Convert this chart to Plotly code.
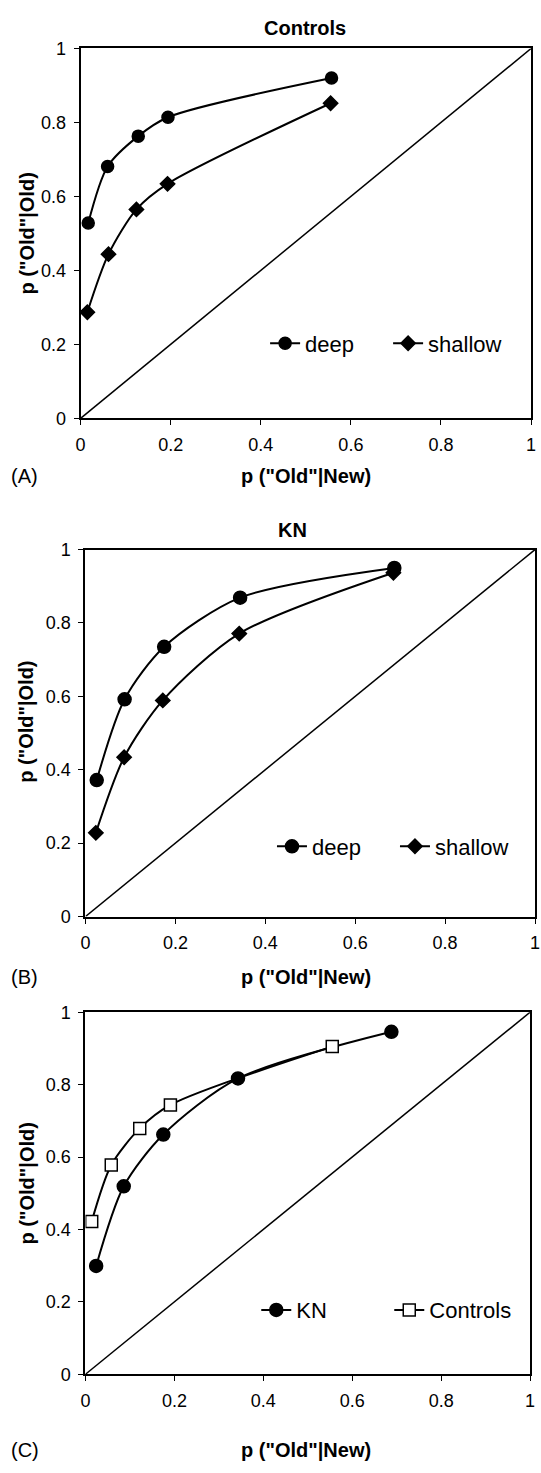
import plotly.graph_objects as go

W, H = 541, 1473

# ---------------- data ----------------
# Panel A - Controls
a_deep_x = [0.017, 0.060, 0.128, 0.194, 0.557]
a_deep_y = [0.528, 0.681, 0.763, 0.814, 0.920]
a_shal_x = [0.015, 0.062, 0.124, 0.193, 0.555]
a_shal_y = [0.287, 0.444, 0.565, 0.634, 0.852]
# Panel B - KN
b_deep_x = [0.025, 0.087, 0.175, 0.344, 0.687]
b_deep_y = [0.372, 0.592, 0.735, 0.869, 0.950]
b_shal_x = [0.023, 0.086, 0.172, 0.342, 0.685]
b_shal_y = [0.228, 0.434, 0.589, 0.771, 0.937]
# Panel C - KN vs Controls
c_kn_x = [0.024, 0.086, 0.175, 0.343, 0.688]
c_kn_y = [0.299, 0.519, 0.662, 0.817, 0.946]
c_ctl_x = [0.014, 0.058, 0.122, 0.191, 0.555]
c_ctl_y = [0.422, 0.578, 0.679, 0.744, 0.905]

diag = [0, 1]
tick_vals = [0, 0.2, 0.4, 0.6, 0.8, 1]
tick_text = ["0", "0.2", "0.4", "0.6", "0.8", "1"]

panel_titles = ["Controls", "KN", ""]
panel_labels = ["(A)", "(B)", "(C)"]
x_title = 'p ("Old"|New)'
y_title = 'p ("Old"|Old)'

FONT = "Liberation Sans, Arial, sans-serif"

# pixel boxes (left, right, top, bottom)
boxes = [(77, 536, 39, 414), (82, 540, 547, 919), (82, 535, 1016, 1383)]


def px(x):
    return x / W


def py(y):
    return 1 - y / H


fig = go.Figure()

series = [
    [("deep", a_deep_x, a_deep_y, "circle", 12, "black"),
     ("shallow", a_shal_x, a_shal_y, "diamond", 11, "black")],
    [("deep", b_deep_x, b_deep_y, "circle", 13, "black"),
     ("shallow", b_shal_x, b_shal_y, "diamond", 11, "black")],
    [("KN", c_kn_x, c_kn_y, "circle", 13, "black"),
     ("Controls", c_ctl_x, c_ctl_y, "square", 12, "white")],
]

# legend left edge (px), centre y (px), entry width
legend_pos = [(265, 338, 78), (272, 848, 78), (256, 1318, 88)]

for i, (box, ser) in enumerate(zip(boxes, series)):
    xa = "x" if i == 0 else f"x{i+1}"
    ya = "y" if i == 0 else f"y{i+1}"
    lg = "legend" if i == 0 else f"legend{i+1}"
    fig.add_trace(go.Scatter(x=diag, y=diag, mode="lines", xaxis=xa, yaxis=ya,
                             line=dict(color="black", width=1.5), showlegend=False,
                             hoverinfo="skip"))
    for name, xs, ys, sym, sz, fill in ser:
        fig.add_trace(go.Scatter(
            x=xs, y=ys, name=name, mode="lines+markers", xaxis=xa, yaxis=ya, legend=lg,
            line=dict(color="black", width=2, shape="spline", smoothing=0.8),
            marker=dict(symbol=sym, size=sz, color=fill,
                        line=dict(color="black", width=1.5)),
        ))
    l, r, t, b = box
    axis_common = dict(range=[0, 1], showline=True, linewidth=2, linecolor="black",
                       mirror=True, ticks="outside", ticklen=5, tickwidth=1,
                       tickcolor="black", showgrid=False, zeroline=False,
                       tickvals=tick_vals, ticktext=tick_text, ticklabelstandoff=4,
                       tickfont=dict(family=FONT, size=18, color="black"))
    fig.update_layout(**{
        ("xaxis" if i == 0 else f"xaxis{i+1}"): dict(domain=[px(l), px(r)], anchor=ya, **axis_common),
        ("yaxis" if i == 0 else f"yaxis{i+1}"): dict(domain=[py(b), py(t)], anchor=xa, **axis_common),
    })
    lx, ly, ew = legend_pos[i]
    fig.update_layout(**{lg: dict(
        x=px(lx), y=py(ly), xanchor="left", yanchor="middle", orientation="h",
        entrywidth=ew, bgcolor="rgba(0,0,0,0)",
        font=dict(family=FONT, size=22, color="black"),
        itemclick=False, itemdoubleclick=False)})

annotations = []
title_pos = [(306, 18), (293, 527)]
for (tx, ty), txt in zip(title_pos, panel_titles):
    annotations.append(dict(text=f"<b>{txt}</b>", x=px(tx), y=py(ty), xref="paper", yref="paper",
                            showarrow=False, xanchor="center", yanchor="middle",
                            font=dict(family=FONT, size=20, color="black")))
xt_y = [472, 980, 1460]
yt_y = [227, 722, 1190]
for i, box in enumerate(boxes):
    annotations.append(dict(text=f"<b>{x_title}</b>", x=px(307), y=py(xt_y[i]), xref="paper",
                            yref="paper", showarrow=False, xanchor="center", yanchor="middle",
                            font=dict(family=FONT, size=20, color="black")))
    annotations.append(dict(text=panel_labels[i], x=px(4), y=py(xt_y[i]), xref="paper",
                            yref="paper", showarrow=False, xanchor="left", yanchor="middle",
                            font=dict(family=FONT, size=20, color="black")))
    annotations.append(dict(text=f"<b>{y_title}</b>", x=px(22), y=py(yt_y[i]), xref="paper",
                            yref="paper", showarrow=False, xanchor="center", yanchor="middle",
                            textangle=-90, font=dict(family=FONT, size=20, color="black")))

fig.update_layout(width=W, height=H, margin=dict(l=0, r=0, t=0, b=0),
                  paper_bgcolor="white", plot_bgcolor="white",
                  font=dict(family=FONT, color="black"),
                  annotations=annotations, showlegend=True)

fig.write_html("out.html")
